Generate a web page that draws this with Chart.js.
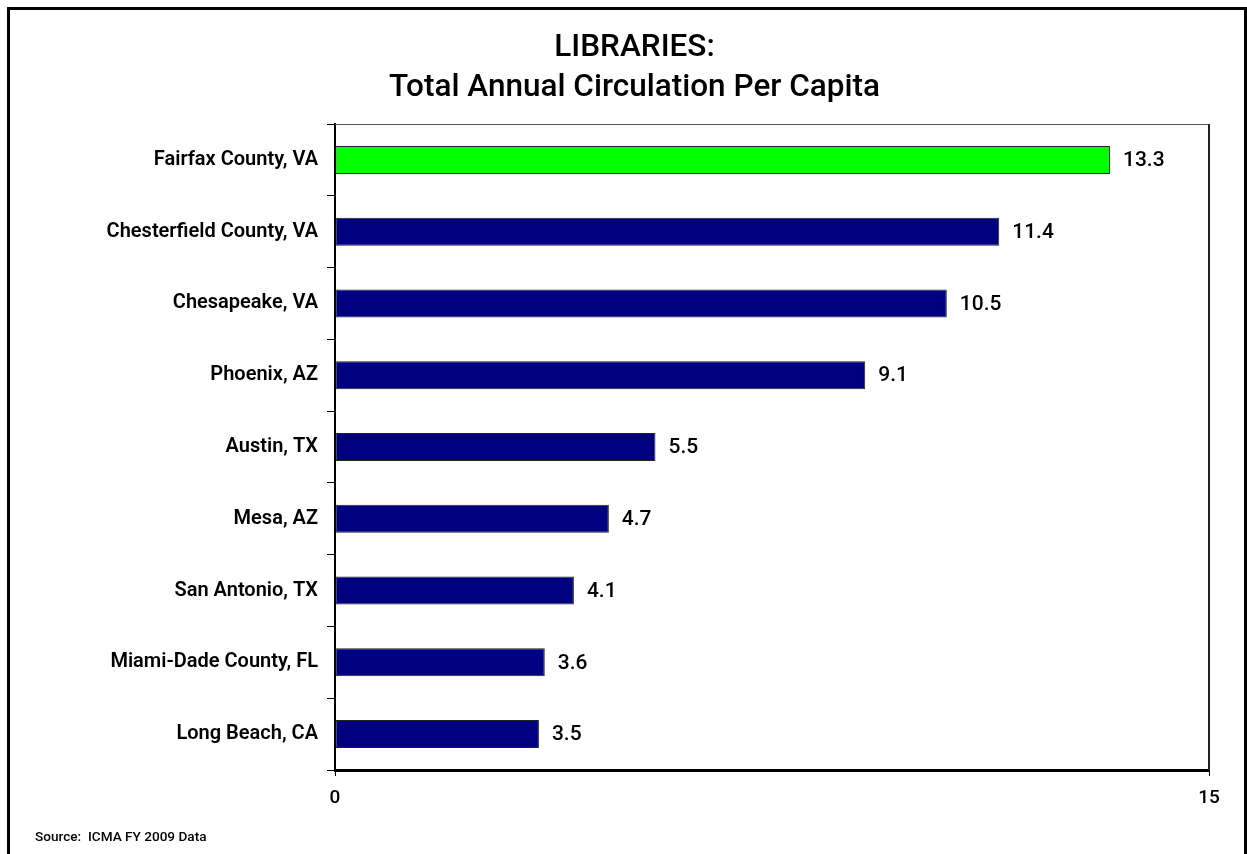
<!DOCTYPE html>
<html>
<head>
<meta charset="utf-8">
<script src="https://cdn.jsdelivr.net/npm/chart.js@4"></script>
<style>
  body { margin: 0; background: #fff; }
  canvas { display: block; }
</style>
</head>
<body>
<canvas id="chart" width="1247" height="854"></canvas>
<script>
const cities = [
  "Fairfax County, VA",
  "Chesterfield County, VA",
  "Chesapeake, VA",
  "Phoenix, AZ",
  "Austin, TX",
  "Mesa, AZ",
  "San Antonio, TX",
  "Miami-Dade County, FL",
  "Long Beach, CA",
];
const circulation = [13.3, 11.4, 10.5, 9.1, 5.5, 4.7, 4.1, 3.6, 3.5];
const titleLines = ["LIBRARIES:", "Total Annual Circulation Per Capita"];
const sourceNote = "Source:  ICMA FY 2009 Data";

const FONT = "Roboto, 'Liberation Sans', Arial, sans-serif";

// frame around the page, box around the plot, value labels and source line
const extras = {
  id: "extras",
  beforeDraw(chart) {
    const ctx = chart.ctx;
    ctx.save();
    ctx.strokeStyle = "#000";
    ctx.lineWidth = 3;
    ctx.beginPath();
    ctx.moveTo(8.5, 860);
    ctx.lineTo(8.5, 8.5);
    ctx.lineTo(1245.5, 8.5);
    ctx.lineTo(1245.5, 860);
    ctx.stroke();
    ctx.restore();
  },
  afterDraw(chart) {
    const ctx = chart.ctx;
    const a = chart.chartArea;
    ctx.save();
    ctx.strokeStyle = "#555";
    ctx.lineWidth = 1;
    ctx.beginPath();
    ctx.moveTo(a.left, a.top + 0.5);
    ctx.lineTo(a.right, a.top + 0.5);
    ctx.stroke();
    ctx.strokeStyle = "#222";
    ctx.lineWidth = 2;
    ctx.beginPath();
    ctx.moveTo(a.right, a.top);
    ctx.lineTo(a.right, a.bottom);
    ctx.stroke();

    ctx.fillStyle = "#000";
    ctx.font = "500 21px " + FONT;
    ctx.textBaseline = "middle";
    ctx.textAlign = "left";
    chart.getDatasetMeta(0).data.forEach((bar, i) => {
      ctx.fillText(circulation[i].toFixed(1), bar.x + 13, bar.y + 1);
    });

    ctx.font = "500 13.6px " + FONT;
    ctx.textBaseline = "alphabetic";
    ctx.fillText(sourceNote, 35, 841);
    ctx.restore();
  },
};

new Chart(document.getElementById("chart"), {
  type: "bar",
  data: {
    labels: cities,
    datasets: [
      {
        data: circulation,
        backgroundColor: cities.map((c, i) => (i === 0 ? "#00ff00" : "#000080")),
        borderColor: "#222",
        borderWidth: 1,
        borderSkipped: false,
        barPercentage: 0.39,
        categoryPercentage: 1,
      },
    ],
  },
  options: {
    indexAxis: "y",
    responsive: false,
    animation: false,
    layout: { padding: { top: 28, left: 60, right: 38, bottom: 0 } },
    plugins: {
      legend: { display: false },
      tooltip: { enabled: false },
      title: {
        display: true,
        text: titleLines,
        color: "#000",
        font: { family: FONT, size: 31.5, weight: "500", lineHeight: 1.27 },
        padding: { top: 0, bottom: 16 },
      },
    },
    scales: {
      x: {
        min: 0,
        max: 15,
        afterFit: (s) => { s.height = 84; },
        ticks: {
          stepSize: 15,
          color: "#000",
          padding: 11,
          font: { family: FONT, size: 19, weight: "500" },
        },
        grid: { drawOnChartArea: false, tickLength: 6, color: "#000", tickWidth: 1 },
        border: { color: "#000", width: 3 },
      },
      y: {
        afterFit: (s) => { s.width = 275; },
        ticks: {
          color: "#000",
          padding: 9,
          font: { family: FONT, size: 20, weight: "600" },
        },
        grid: { drawOnChartArea: false, offset: true, tickLength: 8, color: "#000", tickWidth: 1 },
        border: { color: "#000", width: 2 },
      },
    },
  },
  plugins: [extras],
});
</script>
</body>
</html>
